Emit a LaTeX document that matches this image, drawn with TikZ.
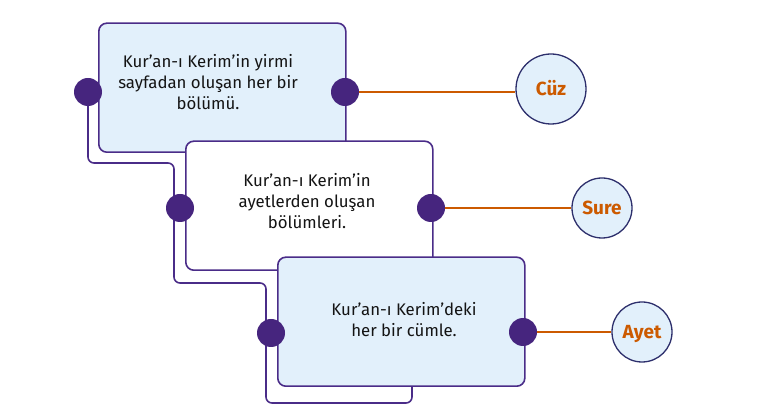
\documentclass[tikz,border=0pt]{standalone}
\usepackage{fontspec}
\setmainfont{Fira Sans}
\definecolor{boxline}{HTML}{4A2C88}
\definecolor{dotc}{HTML}{46257E}
\definecolor{boxfill}{HTML}{E2F0FB}
\definecolor{orng}{HTML}{CC5A00}
\definecolor{circline}{HTML}{2D2F6C}
\definecolor{txtc}{HTML}{141414}
\begin{document}
\begin{tikzpicture}[x=1pt,y=1pt,
  box/.style={draw=boxline, line width=1.6pt, rounded corners=8pt, minimum width=247pt, minimum height=129pt, inner sep=0pt, anchor=south west},
  tail/.style={draw=boxline, line width=1.6pt, rounded corners=6pt},
  dot/.style={circle, fill=dotc, minimum size=28pt, inner sep=0pt},
  term/.style={circle, draw=circline, line width=1.3pt, fill=boxfill, inner sep=0pt, text=orng, font=\fontsize{19}{22}\selectfont\bfseries, text height=13.5pt, text depth=0pt},
  link/.style={draw=orng, line width=2.2pt},
  txt/.style={align=center, font=\fontsize{16.8}{21}\selectfont, text=txtc}]
\useasboundingbox (0,0) rectangle (764,407);
% connecting tail outline
\draw[tail] (88,315) -- (88,244) -- (174,244) -- (174,124) -- (266,124) -- (266,4) -- (412,4) -- (412,21);
% boxes
\node[box, fill=boxfill] (b1) at (98,254) {};
\node[box, fill=white] (b2) at (185,136) {};
\node[box, fill=boxfill] (b3) at (277,20) {};
% texts
\node[txt] (t1) at (208,325) {Kur’an-ı Kerim’in yirmi\\sayfadan oluşan her bir\\bölümü.};
\node[txt] (t2) at (307,206) {Kur’an-ı Kerim’in\\ayetlerden oluşan\\bölümleri.};
\node[txt] (t3) at (404,87) {Kur’an-ı Kerim’deki\\her bir cümle.};
% dots
\node[dot] (l1) at (88,315) {};
\node[dot] (l2) at (180,199) {};
\node[dot] (l3) at (271,74) {};
\node[dot] (r1) at (345,315) {};
\node[dot] (r2) at (431,199) {};
\node[dot] (r3) at (523,75) {};
% terms
\node[term, minimum size=70pt] (cuz) at (551,318) {Cüz};
\node[term, minimum size=60pt] (sure) at (602,199) {Sure};
\node[term, minimum size=60pt] (ayet) at (642,75) {Ayet};
% links
\draw[link] (r1) -- (r1 -| cuz.west);
\draw[link] (r2) -- (sure);
\draw[link] (r3) -- (ayet);
\end{tikzpicture}
\end{document}
